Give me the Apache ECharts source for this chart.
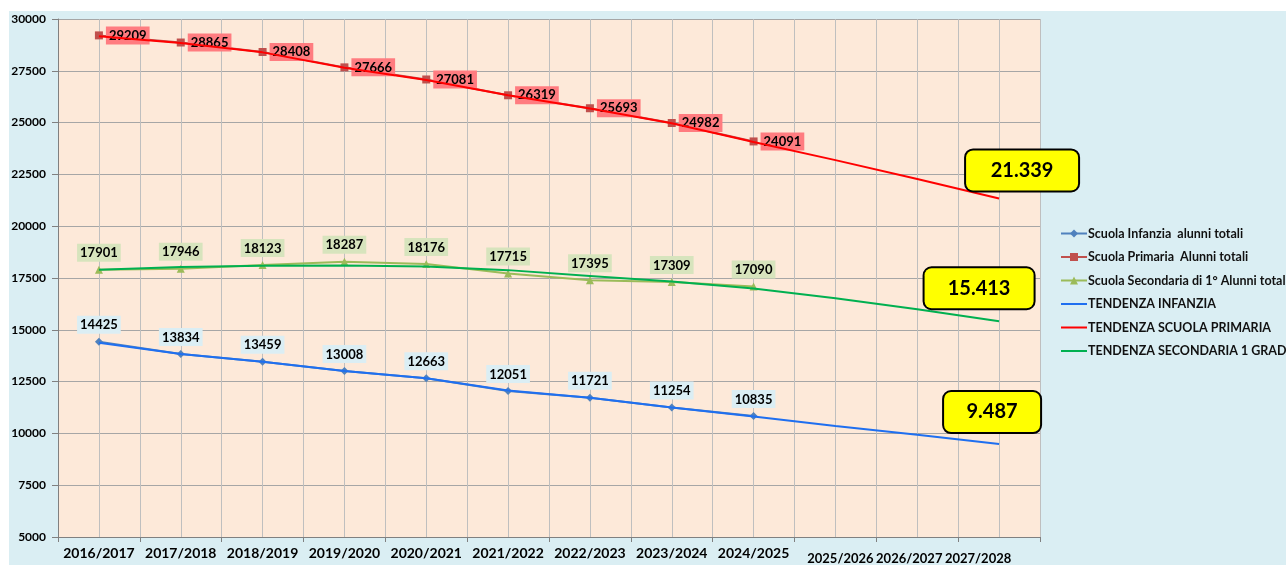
<!DOCTYPE html>
<html><head><meta charset="utf-8">
<script src="https://cdn.jsdelivr.net/npm/echarts@6/dist/echarts.min.js"></script>
<style>
html,body{margin:0;padding:0;background:#fff;}
#bg{position:absolute;left:9px;top:11px;width:1277px;height:554px;background:#DAEEF3;}
#chart{position:absolute;left:0;top:0;width:1286px;height:565px;}
</style></head>
<body>
<div id="bg"></div>
<div id="chart"></div>
<script>
const years = ['2016/2017','2017/2018','2018/2019','2019/2020','2020/2021','2021/2022','2022/2023','2023/2024','2024/2025','2025/2026','2026/2027','2027/2028'];
const infanzia = [14425, 13834, 13459, 13008, 12663, 12051, 11721, 11254, 10835];
const primaria = [29209, 28865, 28408, 27666, 27081, 26319, 25693, 24982, 24091];
const secondaria = [17901, 17946, 18123, 18287, 18176, 17715, 17395, 17309, 17090];
const trendInfanzia = [14380, 13830, 13460, 13010, 12660, 12070, 11720, 11250, 10820, 10360, 9930, 9487];
const trendPrimaria = [29170, 28840, 28390, 27650, 27060, 26320, 25680, 24970, 24060, 23190, 22280, 21339];
const trendSecondaria = [17900, 18030, 18090, 18100, 18060, 17880, 17600, 17330, 16990, 16520, 15990, 15413];
const names = ['Scuola Infanzia  alunni totali','Scuola Primaria  Alunni totali','Scuola Secondaria di 1° Alunni totali','TENDENZA INFANZIA','TENDENZA SCUOLA PRIMARIA','TENDENZA SECONDARIA 1 GRADO'];

const FONT = 'Lato, "Liberation Sans", Arial, sans-serif';
const fmtIt = v => String(v).replace(/\B(?=(\d{3})+(?!\d))/g, '.');
const gridSlots = years.flatMap(y => [y + 'a', y + 'b']);

function callout(arr, off, w) {
  const i = arr.length - 1;
  return {
    symbol: 'circle', symbolSize: 1, itemStyle: {color: 'transparent'},
    data: [{coord: [i, arr[i]], value: arr[i]}],
    label: {
      show: true, position: 'inside', offset: off,
      formatter: p => fmtIt(p.value),
      backgroundColor: '#FFFF00', borderColor: '#000', borderWidth: 2, borderRadius: 7,
      width: w, height: 40, lineHeight: 40, align: 'center', verticalAlign: 'middle',
      color: '#000', fontWeight: 'bold', fontSize: 20, fontFamily: FONT
    }
  };
}

const lblBase = {show: true, color: '#000', fontWeight: 'bold', fontSize: 13, fontFamily: FONT, padding: [3, 3, 2, 3]};

const legendData = names.map((n, i) => i >= 3 ? {name: n, itemStyle: {opacity: 0}} : {name: n});

const chart = echarts.init(document.getElementById('chart'), null, {renderer: 'canvas'});
chart.setOption({
  backgroundColor: 'transparent',
  animation: false,
  grid: {left: 58, right: 246, top: 19, bottom: 26, show: true, backgroundColor: '#FDE9D9', borderWidth: 0},
  legend: {
    orient: 'vertical', left: 1055, top: 222, itemWidth: 26, itemHeight: 10, itemGap: 10.5,
    data: legendData,
    textStyle: {color: '#111', fontWeight: 'bold', fontSize: 12.5, fontFamily: FONT, padding: [0, 0, 0, -4]}
  },
  xAxis: [{
    type: 'category', data: years, boundaryGap: true,
    axisLine: {lineStyle: {color: '#808080', width: 1}},
    axisTick: {show: true, length: 5, lineStyle: {color: '#808080'}},
    splitLine: {show: false},
    axisLabel: {
      interval: 0, margin: 9, color: '#000', fontWeight: 'bold', fontSize: 14, fontFamily: FONT,
      formatter: (v, i) => i >= 9 ? '{s' + i + '|' + v + '}' : v,
      rich: {
        s9: {fontSize: 13, fontWeight: 'bold', fontFamily: FONT, color: '#000', padding: [6, 0, 0, 10]},
        s10: {fontSize: 13, fontWeight: 'bold', fontFamily: FONT, color: '#000', padding: [6, 16, 0, 0]},
        s11: {fontSize: 13, fontWeight: 'bold', fontFamily: FONT, color: '#000', padding: [6, 42, 0, 0]}
      }
    }
  }, {
    type: 'category', data: gridSlots, boundaryGap: true, position: 'bottom',
    axisLine: {show: false}, axisTick: {show: false}, axisLabel: {show: false},
    splitLine: {show: true, interval: 0, lineStyle: {color: '#BFBFBF', width: 1}}
  }],
  yAxis: {
    type: 'value', min: 5000, max: 30000, interval: 2500,
    axisLine: {show: true, lineStyle: {color: '#808080'}},
    axisTick: {show: true, length: 6, lineStyle: {color: '#808080'}},
    splitLine: {lineStyle: {color: '#A6A6A6', width: 1}},
    axisLabel: {margin: 12, color: '#000', fontWeight: 'bold', fontSize: 12, fontFamily: FONT, formatter: v => String(v)}
  },
  series: [
    {name: names[3], type: 'line', data: trendInfanzia, symbol: 'none', z: 3,
     lineStyle: {color: '#1F6FF0', width: 2}, itemStyle: {color: '#1F6FF0'},
     markPoint: callout(trendInfanzia, [-7, -32], 96)},
    {name: names[4], type: 'line', data: trendPrimaria, symbol: 'none', z: 3,
     lineStyle: {color: '#FF0000', width: 2}, itemStyle: {color: '#FF0000'},
     markPoint: callout(trendPrimaria, [23, -28], 112)},
    {name: names[5], type: 'line', data: trendSecondaria, symbol: 'none', z: 3,
     lineStyle: {color: '#00B050', width: 2}, itemStyle: {color: '#00B050'},
     markPoint: callout(trendSecondaria, [-20, -33], 109)},
    {name: names[0], type: 'line', data: infanzia, symbol: 'diamond', symbolSize: 8, z: 2,
     lineStyle: {color: '#4F81BD', width: 2}, itemStyle: {color: '#4F81BD'},
     label: Object.assign({}, lblBase, {position: 'top', distance: 4, backgroundColor: '#DBEEF4'})},
    {name: names[1], type: 'line', data: primaria, symbol: 'rect', symbolSize: 8, z: 2,
     lineStyle: {color: '#C0504D', width: 2}, itemStyle: {color: '#C0504D'},
     label: Object.assign({}, lblBase, {position: 'right', distance: 3, backgroundColor: '#FF7C80'})},
    {name: names[2], type: 'line', data: secondaria, symbol: 'triangle', symbolSize: 8, z: 2,
     lineStyle: {color: '#9BBB59', width: 2}, itemStyle: {color: '#9BBB59'},
     label: Object.assign({}, lblBase, {position: 'top', distance: 4, backgroundColor: '#D7E4BD'})}
  ]
});
</script>
</body></html>
